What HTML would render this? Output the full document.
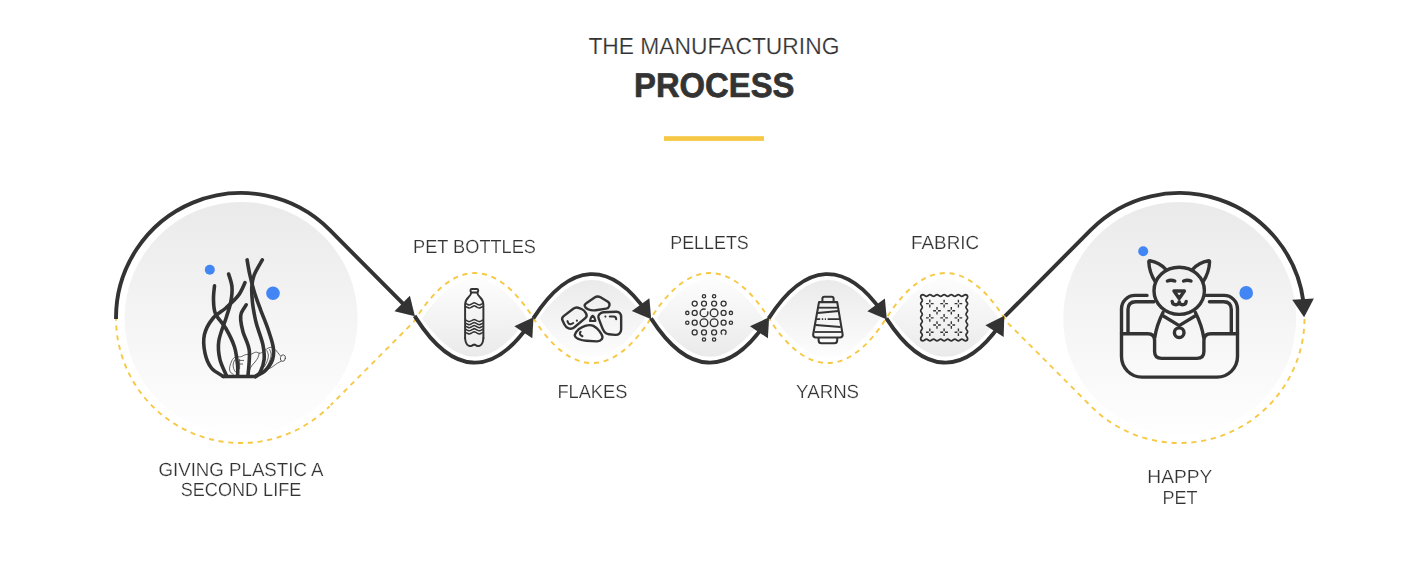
<!DOCTYPE html>
<html lang="en">
<head>
<meta charset="utf-8">
<title>The Manufacturing Process</title>
<style>
html,body{margin:0;padding:0;background:#fff;}
body{width:1428px;height:567px;overflow:hidden;font-family:"Liberation Sans",sans-serif;}
svg{display:block;}
</style>
</head>
<body>
<svg width="1428" height="567" viewBox="0 0 1428 567">
<defs><linearGradient id="gb" x1="0" y1="0" x2="0" y2="1"><stop offset="0" stop-color="#eaeaea"/><stop offset="0.72" stop-color="#f9f9f9"/><stop offset="1" stop-color="#fefefe"/></linearGradient><linearGradient id="gs" gradientUnits="userSpaceOnUse" x1="0" y1="279" x2="0" y2="357"><stop offset="0" stop-color="#eaeaea"/><stop offset="1" stop-color="#fdfdfd"/></linearGradient><linearGradient id="gu" gradientUnits="userSpaceOnUse" x1="0" y1="279" x2="0" y2="357"><stop offset="0" stop-color="#fdfdfd"/><stop offset="1" stop-color="#eaeaea"/></linearGradient></defs>
<rect width="1428" height="567" fill="#fff"/>
<rect x="664" y="136.2" width="100" height="4.7" fill="#f6c844"/>
<circle cx="241.1" cy="318.4" r="116.5" fill="url(#gb)"/>
<circle cx="1179.7" cy="318.4" r="116.5" fill="url(#gb)"/>
<path d="M422 318.2C458.8 265.87 490.7 265.87 527.5 318.2C490.7 369.53 458.8 369.53 422 318.2Z" fill="url(#gu)"/><path d="M539.1 318.2C575.9 267.27 608.4 267.27 645.2 318.2C608.4 370.13 575.9 370.13 539.1 318.2Z" fill="url(#gs)"/><path d="M656.8 318.2C693.6 265.87 726.1 265.87 762.9 318.2C726.1 369.53 693.6 369.53 656.8 318.2Z" fill="url(#gu)"/><path d="M774.5 318.2C811.3 267.27 843.8 267.27 880.6 318.2C843.8 370.13 811.3 370.13 774.5 318.2Z" fill="url(#gs)"/><path d="M892.2 318.2C929 265.87 961.7 265.87 998.5 318.2C961.7 369.53 929 369.53 892.2 318.2Z" fill="url(#gu)"/>
<path d="M116.02 315.8A125 125 0 0 0 329.48 406.3" fill="none" stroke="#f6c844" stroke-width="1.9" stroke-dasharray="5.1 4.67"/>
<path d="M330.61 405.16L413.7 321.9L416.2 318.05C454.2 258.05 495.3 258.05 533.3 318.05C571.3 378.05 613 378.05 651 318.05C689 258.05 730.7 258.05 768.7 318.05C806.7 378.05 848.4 378.05 886.4 318.05C924.4 258.05 966.3 258.05 1004.3 318.05L1006.7 321.9 L1091.07 406.35 A125 125 0 0 0 1304.5 318" fill="none" stroke="#f6c844" stroke-width="1.9" stroke-dasharray="5.1 4.8" stroke-dashoffset="1.5"/>
<path d="M116 318.9A125 125 0 0 1 329.69 229.91L409.47 310.24M414.61 315.87L416.2 318.35C452.87 375.29 492.43 377.28 529.3 324.33M533.3 318.35C569.97 261.42 610.09 259.42 647 312.37M651 318.35C687.67 375.29 727.79 377.28 764.7 324.33M768.7 318.35C805.37 261.42 845.49 259.42 882.4 312.37M886.4 318.35C923.07 375.29 963.37 377.28 1000.3 324.33M1005.08 316.13L1090.86 229.86A125 125 0 0 1 1303.43 301.68" fill="none" stroke="#333333" stroke-width="3.9" stroke-linecap="butt" stroke-linejoin="round"/>
<g fill="#333333"><path d="M414.93 316.34L394.48 311.14L409.88 295.85Z"/><path d="M533.51 317.26L532.31 338.32L514.36 326.13Z"/><path d="M651.23 319.33L631.81 311.06L649.37 298.31Z"/><path d="M769.11 317.26L767.91 338.32L749.96 326.13Z"/><path d="M886.83 319.43L867.37 311.26L884.86 298.41Z"/><path d="M1004.29 315.84L1003.64 336.94L985.38 325.21Z"/><path d="M1304.1 317.3L1292.2 299.87L1313.86 298.59Z"/></g>
<g fill="#4285f4"><circle cx="209.8" cy="269.7" r="5"/><circle cx="273" cy="293.2" r="6.8"/><circle cx="1143.2" cy="251.3" r="5"/><circle cx="1246.2" cy="292.9" r="6.8"/></g>
<g fill="none" stroke="#333333" stroke-width="3.6" stroke-linecap="round" stroke-linejoin="round"><path d="M214.5 285.8C214.33 288.07 213.33 294.75 213.5 299.4C213.67 304.05 213.43 308.85 215.5 313.7C217.57 318.55 222.73 322.95 225.9 328.5C229.07 334.05 232.55 340.82 234.5 347C236.45 353.18 237.08 360.83 237.6 365.6C238.12 370.37 237.6 373.93 237.6 375.6"/><path d="M228.6 274C229.17 276.17 231.63 282.35 232 287C232.37 291.65 231.72 296.95 230.8 301.9C229.88 306.85 228.5 310.2 226.5 316.7C224.5 323.2 219.9 333.78 218.8 340.9C217.7 348.02 218.62 353.62 219.9 359.4C221.18 365.18 225.4 372.9 226.5 375.6"/><path d="M245 282.7C243.87 284.87 241.38 291.48 238.2 295.7C235.02 299.92 230.13 304.2 225.9 308C221.67 311.8 216.38 314.05 212.8 318.5C209.22 322.95 205.7 328.92 204.4 334.7C203.1 340.48 203.83 347.65 205 353.2C206.17 358.75 208.33 364.13 211.4 368C214.47 371.87 221.4 375 223.4 376.4"/><path d="M246.2 304.9C245.38 306.25 242.22 310.48 241.3 313C240.38 315.52 240.4 316.8 240.7 320C241 323.2 241.67 327.08 243.1 332.2C244.53 337.32 248.48 343.47 249.3 350.7C250.12 357.93 248.22 371.45 248 375.6"/><path d="M247.1 259.9C247.55 262.37 248.6 269.35 249.8 274.7C251 280.05 252.53 286.23 254.3 292C256.07 297.77 258.15 303.22 260.4 309.3C262.65 315.38 265.67 322.22 267.8 328.5C269.93 334.78 272.4 341.85 273.2 347C274 352.15 273.9 355.48 272.6 359.4C271.3 363.32 268.25 367.65 265.4 370.5C262.55 373.35 257.15 375.5 255.5 376.5"/><path d="M262.3 259.9C260.97 262.37 256.05 270.18 254.3 274.7C252.55 279.22 252.12 282.47 251.8 287C251.48 291.53 251.98 297.37 252.4 301.9C252.82 306.43 253.58 310.38 254.3 314.2C255.02 318.02 255.27 319.73 256.7 324.8C258.13 329.87 261.67 338.83 262.9 344.6C264.13 350.37 264.52 354.88 264.1 359.4C263.68 363.92 261.83 368.85 260.4 371.7C258.97 374.55 256.32 375.7 255.5 376.5"/><path d="M222.8 376.5H256"/></g><g fill="none" stroke="#333333" stroke-width="0.85" stroke-linecap="round" stroke-linejoin="round" opacity="0.9"><ellipse cx="282.9" cy="358.1" rx="2.5" ry="3.3" transform="rotate(12 282.9 358.1)"/><path d="M280.4 355.8C279.93 355.23 278.47 353.45 277.6 352.4C276.73 351.35 276.13 350.33 275.2 349.5C274.27 348.67 273.02 347.7 272 347.4C270.98 347.1 270 347.43 269.1 347.7C268.2 347.97 267.43 348.57 266.6 349C265.77 349.43 264.93 349.7 264.1 350.3C263.27 350.9 262.42 352.12 261.6 352.6C260.78 353.08 260.03 353.27 259.2 353.2C258.37 353.13 257.42 352.3 256.6 352.2C255.78 352.1 255.1 352.3 254.3 352.6C253.5 352.9 252.63 353.7 251.8 354C250.97 354.3 250.13 354.33 249.3 354.4C248.47 354.47 247.62 354.28 246.8 354.4C245.98 354.52 245.23 354.77 244.4 355.1C243.57 355.43 242.63 356.1 241.8 356.4C240.97 356.7 240.23 356.85 239.4 356.9C238.57 356.95 237.62 356.6 236.8 356.7C235.98 356.8 235.23 357.02 234.5 357.5C233.77 357.98 232.92 358.87 232.4 359.6C231.88 360.33 231.77 361 231.4 361.9C231.03 362.8 230.5 363.98 230.2 365C229.9 366.02 229.7 367.17 229.6 368C229.5 368.83 229.5 369.38 229.6 370C229.7 370.62 229.9 371.17 230.2 371.7C230.5 372.23 230.88 372.78 231.4 373.2C231.92 373.62 232.98 374.03 233.3 374.2"/><path d="M281.2 361.2C280.57 361.53 278.6 362.47 277.4 363.2C276.2 363.93 274.97 364.9 274 365.6C273.03 366.3 272.42 366.9 271.6 367.4C270.78 367.9 269.93 368.3 269.1 368.6C268.27 368.9 267.43 369.08 266.6 369.2C265.77 369.32 264.52 369.28 264.1 369.3"/><path d="M266.8 350.6C267.07 351.33 268.3 353.35 268.4 355C268.5 356.65 268.03 358.58 267.4 360.5C266.77 362.42 265.07 365.5 264.6 366.5"/><path d="M269.6 349.6C269.87 350.33 271.1 352.35 271.2 354C271.3 355.65 270.8 357.58 270.2 359.5C269.6 361.42 268.03 364.5 267.6 365.5"/><path d="M264.2 352C264.43 352.67 265.53 354.42 265.6 356C265.67 357.58 265.2 359.58 264.6 361.5C264 363.42 262.43 366.5 262 367.5"/><path d="M259.2 353.2C259 353.92 258.7 356.03 258 357.5C257.3 358.97 256.08 360.58 255 362C253.92 363.42 252.42 364.67 251.5 366C250.58 367.33 249.83 369.33 249.5 370"/><path d="M239.6 359.4V368.5M239.6 360.4H243.6M239.6 364H242.6"/><path d="M234.6 360C234.37 360.67 233.37 362.58 233.2 364C233.03 365.42 233.23 367.2 233.6 368.5C233.97 369.8 235.1 371.25 235.4 371.8"/></g>
<g fill="none" stroke="#333333" stroke-width="1.95" stroke-linecap="round" stroke-linejoin="round"><rect x="470.5" y="288.95" width="7.7" height="3.5" rx="1.4"/><path d="M471.3 292.6C470.6 297.4 465.1 297.6 465.1 304.4V338.2"/><path d="M465.1 338.2C465.2 338.8 465.35 340.73 465.7 341.8C466.05 342.87 466.55 343.9 467.2 344.6C467.85 345.3 468.83 345.8 469.6 346C470.37 346.2 471.23 345.98 471.8 345.8C472.37 345.62 472.59 345.13 473 344.9C473.41 344.67 473.83 344.4 474.25 344.4C474.67 344.4 475.09 344.67 475.5 344.9C475.91 345.13 476.13 345.62 476.7 345.8C477.27 345.98 478.13 346.2 478.9 346C479.67 345.8 480.65 345.3 481.3 344.6C481.95 343.9 482.45 342.87 482.8 341.8C483.15 340.73 483.3 338.8 483.4 338.2"/><path d="M483.4 338.2V304.4C483.4 297.6 477.9 297.4 477.2 292.6"/></g><g fill="none" stroke="#333333" stroke-width="1.55" stroke-linecap="butt" stroke-linejoin="round"><path d="M465.1 303.2C465.45 303.37 466.5 303.92 467.2 304.2C467.9 304.48 468.53 304.95 469.3 304.9C470.07 304.85 470.98 304.27 471.8 303.9C472.62 303.53 473.43 302.7 474.25 302.7C475.07 302.7 475.88 303.53 476.7 303.9C477.52 304.27 478.43 304.85 479.2 304.9C479.97 304.95 480.6 304.48 481.3 304.2C482 303.92 483.05 303.37 483.4 303.2"/><path d="M465.1 306.3C465.45 306.47 466.5 307.02 467.2 307.3C467.9 307.58 468.53 308.05 469.3 308C470.07 307.95 470.98 307.37 471.8 307C472.62 306.63 473.43 305.8 474.25 305.8C475.07 305.8 475.88 306.63 476.7 307C477.52 307.37 478.43 307.95 479.2 308C479.97 308.05 480.6 307.58 481.3 307.3C482 307.02 483.05 306.47 483.4 306.3"/><path d="M465.1 319.9C465.45 320.07 466.5 320.62 467.2 320.9C467.9 321.18 468.53 321.65 469.3 321.6C470.07 321.55 470.98 320.97 471.8 320.6C472.62 320.23 473.43 319.4 474.25 319.4C475.07 319.4 475.88 320.23 476.7 320.6C477.52 320.97 478.43 321.55 479.2 321.6C479.97 321.65 480.6 321.18 481.3 320.9C482 320.62 483.05 320.07 483.4 319.9"/><path d="M465.1 322.95C465.45 323.12 466.5 323.67 467.2 323.95C467.9 324.23 468.53 324.7 469.3 324.65C470.07 324.6 470.98 324.02 471.8 323.65C472.62 323.28 473.43 322.45 474.25 322.45C475.07 322.45 475.88 323.28 476.7 323.65C477.52 324.02 478.43 324.6 479.2 324.65C479.97 324.7 480.6 324.23 481.3 323.95C482 323.67 483.05 323.12 483.4 322.95"/><path d="M465.1 326C465.45 326.17 466.5 326.72 467.2 327C467.9 327.28 468.53 327.75 469.3 327.7C470.07 327.65 470.98 327.07 471.8 326.7C472.62 326.33 473.43 325.5 474.25 325.5C475.07 325.5 475.88 326.33 476.7 326.7C477.52 327.07 478.43 327.65 479.2 327.7C479.97 327.75 480.6 327.28 481.3 327C482 326.72 483.05 326.17 483.4 326"/><path d="M465.1 329.1C465.45 329.27 466.5 329.82 467.2 330.1C467.9 330.38 468.53 330.85 469.3 330.8C470.07 330.75 470.98 330.17 471.8 329.8C472.62 329.43 473.43 328.6 474.25 328.6C475.07 328.6 475.88 329.43 476.7 329.8C477.52 330.17 478.43 330.75 479.2 330.8C479.97 330.85 480.6 330.38 481.3 330.1C482 329.82 483.05 329.27 483.4 329.1"/><path d="M465.1 332.2C465.45 332.37 466.5 332.92 467.2 333.2C467.9 333.48 468.53 333.95 469.3 333.9C470.07 333.85 470.98 333.27 471.8 332.9C472.62 332.53 473.43 331.7 474.25 331.7C475.07 331.7 475.88 332.53 476.7 332.9C477.52 333.27 478.43 333.85 479.2 333.9C479.97 333.95 480.6 333.48 481.3 333.2C482 332.92 483.05 332.37 483.4 332.2"/><path d="M473.2 345.6Q474.25 343.6 475.3 345.6" stroke-width="1.2"/></g>
<g fill="none" stroke="#333333" stroke-width="2.4" stroke-linecap="round" stroke-linejoin="round"><path d="M584.78 306.26Q584.1 304.59 586.59 302.91L594.64 297.46Q597.54 295.5 600.53 297.32L607.54 301.6Q610.1 303.16 609.37 305.61L609.27 305.97Q608.59 308.28 606.22 308.63L595.57 310.24Q591.61 310.83 588.68 309.51L587.7 309.07Q585.51 308.08 584.83 306.4Z"/><path d="M562.55 320.6Q561.25 317.9 563.64 316.08L573.26 308.77Q576.05 306.65 579.27 308.03L581.52 309Q584.27 310.18 585.7 312.82L586.12 313.61Q587.55 316.25 585.25 318.18L574.4 327.29Q571.72 329.54 568.86 328.44L568.56 328.33Q565.76 327.26 564.46 324.55Z"/><path d="M598.54 318.17Q597.82 316.31 599.04 314.72L599.41 314.25Q600.87 312.35 603.36 312.27L616.21 311.82Q618.71 311.74 619.88 313.15L619.98 313.26Q621.15 314.67 621.15 317.17L621.15 329.43Q621.15 331.93 619.5 333.44L619.36 333.56Q617.7 335.07 615.21 334.84L608.9 334.26Q605.92 333.98 604.54 332.04L604.43 331.88Q603.05 329.93 601.97 327.13Z"/><path d="M575.08 336.4Q574.3 335.02 575.93 332.5L576.51 331.6Q578.54 328.44 582.29 327.04L585.18 325.96Q589.86 324.21 593.41 325.95L593.71 326.09Q597.25 327.84 599.44 331.18L601.38 334.13Q603.29 337.06 601.74 339.22L601.61 339.4Q600.06 341.56 596.56 341.35L586.2 340.76Q582.21 340.53 579.19 339.26L578.22 338.86Q575.91 337.89 575.14 336.51Z"/><path d="M590 321Q590.9 316.6 592.7 315.8Q594.5 316.6 595.4 321Z" stroke-width="2.1"/></g><g fill="none" stroke="#333333" stroke-width="2.1" stroke-linecap="round" stroke-linejoin="round"><path d="M567.5 321.2Q568.4 324 570.2 324.2Q571.8 324 573.2 323"/><path d="M576.9 320.5V320.7"/><path d="M605.4 316.5V316.6"/><path d="M609.8 316.5H613.6Q616.2 316.6 616.2 319.3"/><path d="M580.6 331.8Q578.4 334.2 582.4 336.2"/></g>
<g fill="none" stroke="#333333"><circle cx="704" cy="296.2" r="1.65" stroke-width="1.3"/><circle cx="714.1" cy="296.2" r="1.65" stroke-width="1.3"/><circle cx="694.7" cy="303.6" r="2.5" stroke-width="1.3"/><circle cx="704" cy="303.6" r="2.5" stroke-width="1.3"/><circle cx="714.1" cy="303.6" r="2.5" stroke-width="1.3"/><circle cx="723.6" cy="303.6" r="2.5" stroke-width="1.3"/><circle cx="687.3" cy="312.9" r="1.65" stroke-width="1.3"/><circle cx="694.7" cy="312.9" r="2.5" stroke-width="1.3"/><circle cx="704" cy="312.9" r="3.85" stroke-width="1.4" stroke-dasharray="19.4 2.6 10"/><circle cx="714.1" cy="312.9" r="3.85" stroke-width="1.4"/><circle cx="723.6" cy="312.9" r="2.5" stroke-width="1.3"/><circle cx="730.9" cy="312.9" r="1.65" stroke-width="1.3"/><circle cx="687.3" cy="322.7" r="1.65" stroke-width="1.3"/><circle cx="694.7" cy="322.7" r="2.5" stroke-width="1.3"/><circle cx="704" cy="322.7" r="3.85" stroke-width="1.4"/><circle cx="714.1" cy="322.7" r="3.85" stroke-width="1.4"/><circle cx="723.6" cy="322.7" r="2.5" stroke-width="1.3"/><circle cx="730.9" cy="322.7" r="1.65" stroke-width="1.3"/><circle cx="694.7" cy="332.4" r="2.5" stroke-width="1.3"/><circle cx="704" cy="332.4" r="2.5" stroke-width="1.3"/><circle cx="714.1" cy="332.4" r="2.5" stroke-width="1.3"/><circle cx="723.6" cy="332.4" r="2.5" stroke-width="1.3" stroke-dasharray="2.7 2.5 20"/><circle cx="704" cy="339.5" r="1.65" stroke-width="1.3"/><circle cx="714.1" cy="339.5" r="1.65" stroke-width="1.3"/></g>
<g fill="none" stroke="#333333" stroke-width="2.05" stroke-linecap="round" stroke-linejoin="round"><path d="M822.4 302V298.6Q822.4 296.7 824.4 296.7H831.6Q833.6 296.7 833.6 298.6V302"/><path d="M819 302.1H837.2L842.6 334.2Q843 337 840.4 337.4H815.4Q812.8 337 813.2 334.2Z"/><path d="M818.6 338V340.6Q818.8 343.2 821.4 343.3H834.4Q837 343.2 837.2 340.6V338"/></g><g fill="none" stroke="#333333" stroke-width="1.8" stroke-linecap="butt"><path d="M818.2 307.7H838.2"/><path d="M817.4 313L838.8 311"/><path d="M816.4 319.1H820.2M821.8 319.1H823.2M824.8 319.1H826M827.6 319.1H839.8"/><path d="M815.6 325L840.6 327"/><path d="M814.4 332H841.8"/></g>
<g fill="none" stroke="#333333" stroke-linecap="round" stroke-linejoin="round"><path d="M922.9 294.65C924.19 294.65 925.15 296.35 926.44 296.35C927.73 296.35 928.69 294.65 929.98 294.65C931.27 294.65 932.24 296.35 933.52 296.35C934.81 296.35 935.78 294.65 937.07 294.65C938.36 294.65 939.32 296.35 940.61 296.35C941.9 296.35 942.86 294.65 944.15 294.65C945.44 294.65 946.4 296.35 947.69 296.35C948.98 296.35 949.94 294.65 951.23 294.65C952.52 294.65 953.49 296.35 954.77 296.35C956.06 296.35 957.03 294.65 958.32 294.65C959.61 294.65 960.57 296.35 961.86 296.35C963.15 296.35 964.11 294.65 965.4 294.65Q967.56 294.74 967.65 296.9C967.65 298.17 965.95 299.11 965.95 300.38C965.95 301.64 967.65 302.58 967.65 303.85C967.65 305.12 965.95 306.06 965.95 307.32C965.95 308.59 967.65 309.53 967.65 310.8C967.65 312.07 965.95 313.01 965.95 314.27C965.95 315.54 967.65 316.48 967.65 317.75C967.65 319.02 965.95 319.96 965.95 321.23C965.95 322.49 967.65 323.43 967.65 324.7C967.65 325.97 965.95 326.91 965.95 328.18C965.95 329.44 967.65 330.38 967.65 331.65C967.65 332.92 965.95 333.86 965.95 335.12C965.95 336.39 967.65 337.33 967.65 338.6Q967.56 340.76 965.4 340.85C964.11 340.85 963.15 339.15 961.86 339.15C960.57 339.15 959.61 340.85 958.32 340.85C957.03 340.85 956.06 339.15 954.77 339.15C953.49 339.15 952.52 340.85 951.23 340.85C949.94 340.85 948.98 339.15 947.69 339.15C946.4 339.15 945.44 340.85 944.15 340.85C942.86 340.85 941.9 339.15 940.61 339.15C939.32 339.15 938.36 340.85 937.07 340.85C935.78 340.85 934.81 339.15 933.52 339.15C932.24 339.15 931.27 340.85 929.98 340.85C928.69 340.85 927.73 339.15 926.44 339.15C925.15 339.15 924.19 340.85 922.9 340.85Q920.74 340.76 920.65 338.6C920.65 337.33 922.35 336.39 922.35 335.12C922.35 333.86 920.65 332.92 920.65 331.65C920.65 330.38 922.35 329.44 922.35 328.18C922.35 326.91 920.65 325.97 920.65 324.7C920.65 323.43 922.35 322.49 922.35 321.23C922.35 319.96 920.65 319.02 920.65 317.75C920.65 316.48 922.35 315.54 922.35 314.27C922.35 313.01 920.65 312.07 920.65 310.8C920.65 309.53 922.35 308.59 922.35 307.32C922.35 306.06 920.65 305.12 920.65 303.85C920.65 302.58 922.35 301.64 922.35 300.38C922.35 299.11 920.65 298.17 920.65 296.9Q920.74 294.74 922.9 294.65Z" stroke-width="1.7"/><path d="M930.8 303.6h2.8M928.8 303.6h-2.8M929.8 304.6v2.8M929.8 302.6v-2.8M945.1 303.6h2.8M943.1 303.6h-2.8M944.1 304.6v2.8M944.1 302.6v-2.8M959.4 303.6h2.8M957.4 303.6h-2.8M958.4 304.6v2.8M958.4 302.6v-2.8M938 310.7h2.8M936 310.7h-2.8M937 311.7v2.8M937 309.7v-2.8M952.3 310.7h2.8M950.3 310.7h-2.8M951.3 311.7v2.8M951.3 309.7v-2.8M930.8 317.9h2.8M928.8 317.9h-2.8M929.8 318.9v2.8M929.8 316.9v-2.8M945.1 317.9h2.8M943.1 317.9h-2.8M944.1 318.9v2.8M944.1 316.9v-2.8M959.4 317.9h2.8M957.4 317.9h-2.8M958.4 318.9v2.8M958.4 316.9v-2.8M938 325h2.8M936 325h-2.8M937 326v2.8M937 324v-2.8M952.3 325h2.8M950.3 325h-2.8M951.3 326v2.8M951.3 324v-2.8M930.8 332.2h2.8M928.8 332.2h-2.8M929.8 333.2v2.8M929.8 331.2v-2.8M945.1 332.2h2.8M943.1 332.2h-2.8M944.1 333.2v2.8M944.1 331.2v-2.8M959.4 332.2h2.8M957.4 332.2h-2.8M958.4 333.2v2.8M958.4 331.2v-2.8" stroke-width="1.35" stroke-linecap="butt"/></g>
<g fill="none" stroke="#333333" stroke-width="3.4" stroke-linecap="round" stroke-linejoin="round"><path d="M1147 295.4H1135A13.5 13.5 0 0 0 1121.5 308.9V356.6A20.5 20.5 0 0 0 1142 377.1H1217A20.5 20.5 0 0 0 1237.5 356.6V308.9A13.5 13.5 0 0 0 1224 295.4H1206"/><path d="M1154 301.7H1135.8Q1128 301.7 1128 309.6V333.4"/><path d="M1209.4 301.7H1223.6Q1231.3 301.7 1231.3 309.6V333.4"/><path d="M1121.5 333.8H1147.6Q1154.6 333.8 1154.6 340.4V351.5Q1154.6 358.4 1161.6 358.4H1197Q1203.9 358.4 1203.9 351.5V340.4Q1203.9 333.8 1211 333.8H1237.5"/><path d="M1163 312.4Q1156.6 325 1154.8 337.5"/><path d="M1195.4 312.4Q1201.8 325 1203.7 337.5"/><path d="M1163.4 316L1179.2 325.6L1195 316"/><circle cx="1179.2" cy="332.7" r="4.8"/><ellipse cx="1179.2" cy="290.8" rx="25.2" ry="23.6"/><path d="M1166 269.6Q1159.4 262.4 1149.8 260.8Q1148.8 260.6 1148.8 261.8Q1149.2 272.4 1155.2 281.6"/><path d="M1192.4 269.6Q1199 262.4 1208.6 260.8Q1209.6 260.6 1209.6 261.8Q1209.2 272.4 1203.2 281.6"/><path d="M1167.4 281Q1171 279.4 1174.8 281"/><path d="M1183.6 281Q1187.3 279.4 1191 281"/><path d="M1174 291H1184.4L1179.2 298.4Z"/><path d="M1172.2 301.4Q1172.6 304.8 1175.8 304.8Q1179.2 304.8 1179.2 301.6Q1179.2 304.8 1182.6 304.8Q1185.8 304.8 1186.2 301.4"/></g>
<g font-family="'Liberation Sans', sans-serif" fill="#333333" style="text-rendering:geometricPrecision"><text x="713.9" y="53.9" font-size="23.3" font-weight="400" text-anchor="middle" textLength="251" lengthAdjust="spacingAndGlyphs" stroke="#fff" stroke-width="0.2">THE MANUFACTURING</text><text x="714.25" y="96.8" font-size="34.3" font-weight="700" text-anchor="middle" textLength="160.4" lengthAdjust="spacingAndGlyphs" stroke="#333333" stroke-width="0.7" stroke-linejoin="round">PROCESS</text></g>
<g font-family="'Liberation Sans', sans-serif" fill="#333333" style="text-rendering:geometricPrecision;filter:grayscale(1)"><text x="474.5" y="252.8" font-size="19" font-weight="400" text-anchor="middle" textLength="123" lengthAdjust="spacingAndGlyphs" stroke="#fff" stroke-width="0.22">PET BOTTLES</text><text x="709.5" y="249.3" font-size="19" font-weight="400" text-anchor="middle" textLength="78.5" lengthAdjust="spacingAndGlyphs" stroke="#fff" stroke-width="0.22">PELLETS</text><text x="945.1" y="249.3" font-size="19" font-weight="400" text-anchor="middle" textLength="68" lengthAdjust="spacingAndGlyphs" stroke="#fff" stroke-width="0.22">FABRIC</text><text x="592.4" y="398.3" font-size="19" font-weight="400" text-anchor="middle" textLength="70" lengthAdjust="spacingAndGlyphs" stroke="#fff" stroke-width="0.22">FLAKES</text><text x="827.6" y="398.3" font-size="19" font-weight="400" text-anchor="middle" textLength="63" lengthAdjust="spacingAndGlyphs" stroke="#fff" stroke-width="0.22">YARNS</text><text x="241" y="475.5" font-size="19" font-weight="400" text-anchor="middle" textLength="165" lengthAdjust="spacingAndGlyphs" stroke="#fff" stroke-width="0.22">GIVING PLASTIC A</text><text x="241" y="496.2" font-size="19" font-weight="400" text-anchor="middle" textLength="120.5" lengthAdjust="spacingAndGlyphs" stroke="#fff" stroke-width="0.22">SECOND LIFE</text><text x="1179.8" y="482.6" font-size="19" font-weight="400" text-anchor="middle" textLength="65" lengthAdjust="spacingAndGlyphs" stroke="#fff" stroke-width="0.22">HAPPY</text><text x="1179.9" y="503.7" font-size="19" font-weight="400" text-anchor="middle" textLength="35" lengthAdjust="spacingAndGlyphs" stroke="#fff" stroke-width="0.22">PET</text></g>
</svg>
</body>
</html>
